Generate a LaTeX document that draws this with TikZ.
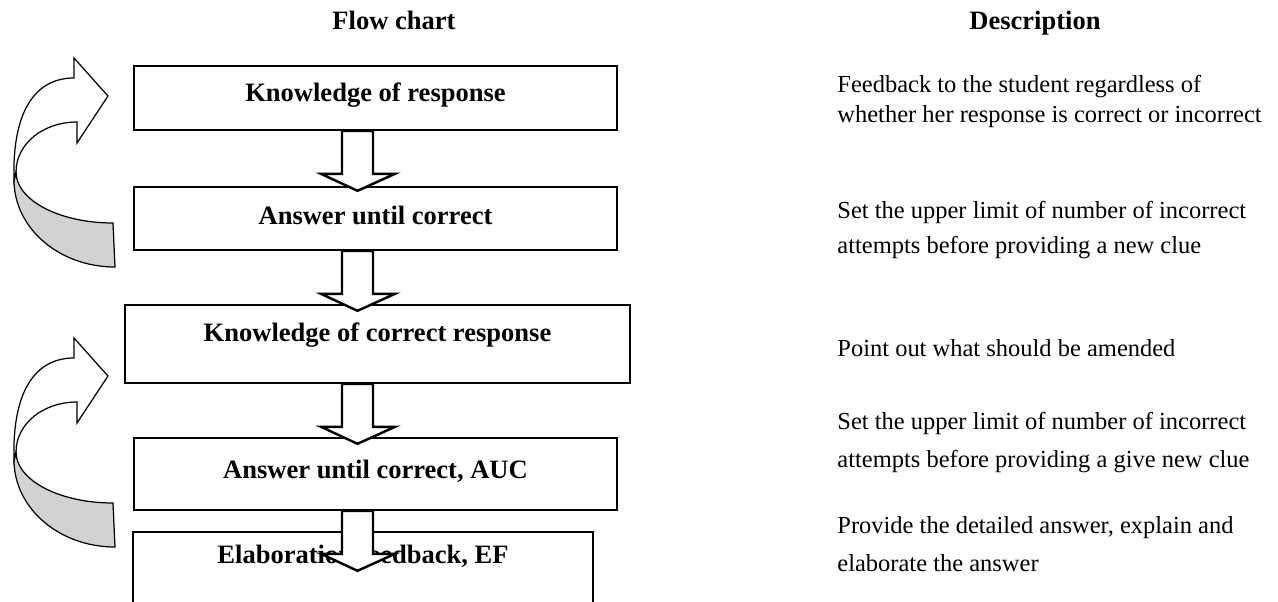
\documentclass[tikz,border=0pt]{standalone}
\usepackage{fontspec}
\setmainfont{Liberation Serif}
\usetikzlibrary{calc}

\begin{document}
\begin{tikzpicture}[x=0.49pt,y=-0.49pt,
    stage/.style={draw,line width=0.8pt,minimum width=483*0.49pt,inner sep=0pt,
        font=\bfseries\fontsize{13}{15}\selectfont,text height=9pt,text depth=3pt},
    head/.style={font=\bfseries\fontsize{13}{15}\selectfont,text height=9pt,text depth=3pt},
    desc/.style={anchor=west,align=left,inner sep=0pt,font=\fontsize{12}{#1}\selectfont},
    blockarrow/.style={draw,fill=white,line width=1.2pt,line join=miter}]
    \useasboundingbox (0,0) rectangle (1278,602);
    \clip (0,0) rectangle (1278,602);

    \node[head] (fc) at (394,23) {Flow chart};
    \node[head] (dh) at (1035,23) {Description};

    \node[stage,minimum height=64*0.49pt,text depth=5.3pt] (kr) at (375.5,98) {Knowledge of response};
    \node[stage,minimum height=63*0.49pt] (auc) at (375.5,218.5) {Answer until correct};
    \node[stage,minimum width=505*0.49pt,minimum height=78*0.49pt,text depth=11.2pt] (kcr) at (377.5,344) {Knowledge of correct response};
    \node[stage,minimum height=72*0.49pt,text depth=4.4pt] (aucb) at (375.5,474) {Answer until correct, AUC};
    \node[stage,minimum width=460*0.49pt,minimum height=108*0.49pt,text depth=30.8pt] (ef) at (363,586) {Elaboration feedback, EF};

    \coordinate (ax) at (342,0);
    \foreach \a in {kr,auc,kcr,aucb}
        \draw[blockarrow] (\a.south -| ax) -- ++(0,43) -- ++(-21,0) -- ++(36.5,17)
            -- ++(37.5,-17) -- ++(-22,0) -- ++(0,-43) -- cycle;

    \foreach \dy in {0,280} {
        \begin{scope}[shift={(0,\dy)}]
        \draw[line width=0.6pt,fill=gray!35] (16,172) .. controls (16,200) and (59,223) .. (113,223)
            -- (115,267) .. controls (59,267) and (14,228) .. (14,180) -- cycle;
        \draw[line width=0.6pt,fill=white] (14,180) .. controls (12,110) and (36,78) .. (74,78)
            -- (74,58) -- (108,96) -- (77,143) -- (77,122)
            .. controls (43,122) and (16,144) .. (16,172) -- cycle;
        \end{scope}
    }

    \node[desc=14.7] (d1) at (837,101) {Feedback to the student regardless of\\whether her response is correct or incorrect};
    \node[desc=17.6] (d2) at (837,230) {Set the upper limit of number of incorrect\\attempts before providing a new clue};
    \node[desc=15] (d3) at (837,348) {Point out what should be amended};
    \node[desc=19] (d4) at (837,442.5) {Set the upper limit of number of incorrect\\attempts before providing a give new clue};
    \node[desc=18.6] (d5) at (837,544) {Provide the detailed answer, explain and\\elaborate the answer};
\end{tikzpicture}
\end{document}
